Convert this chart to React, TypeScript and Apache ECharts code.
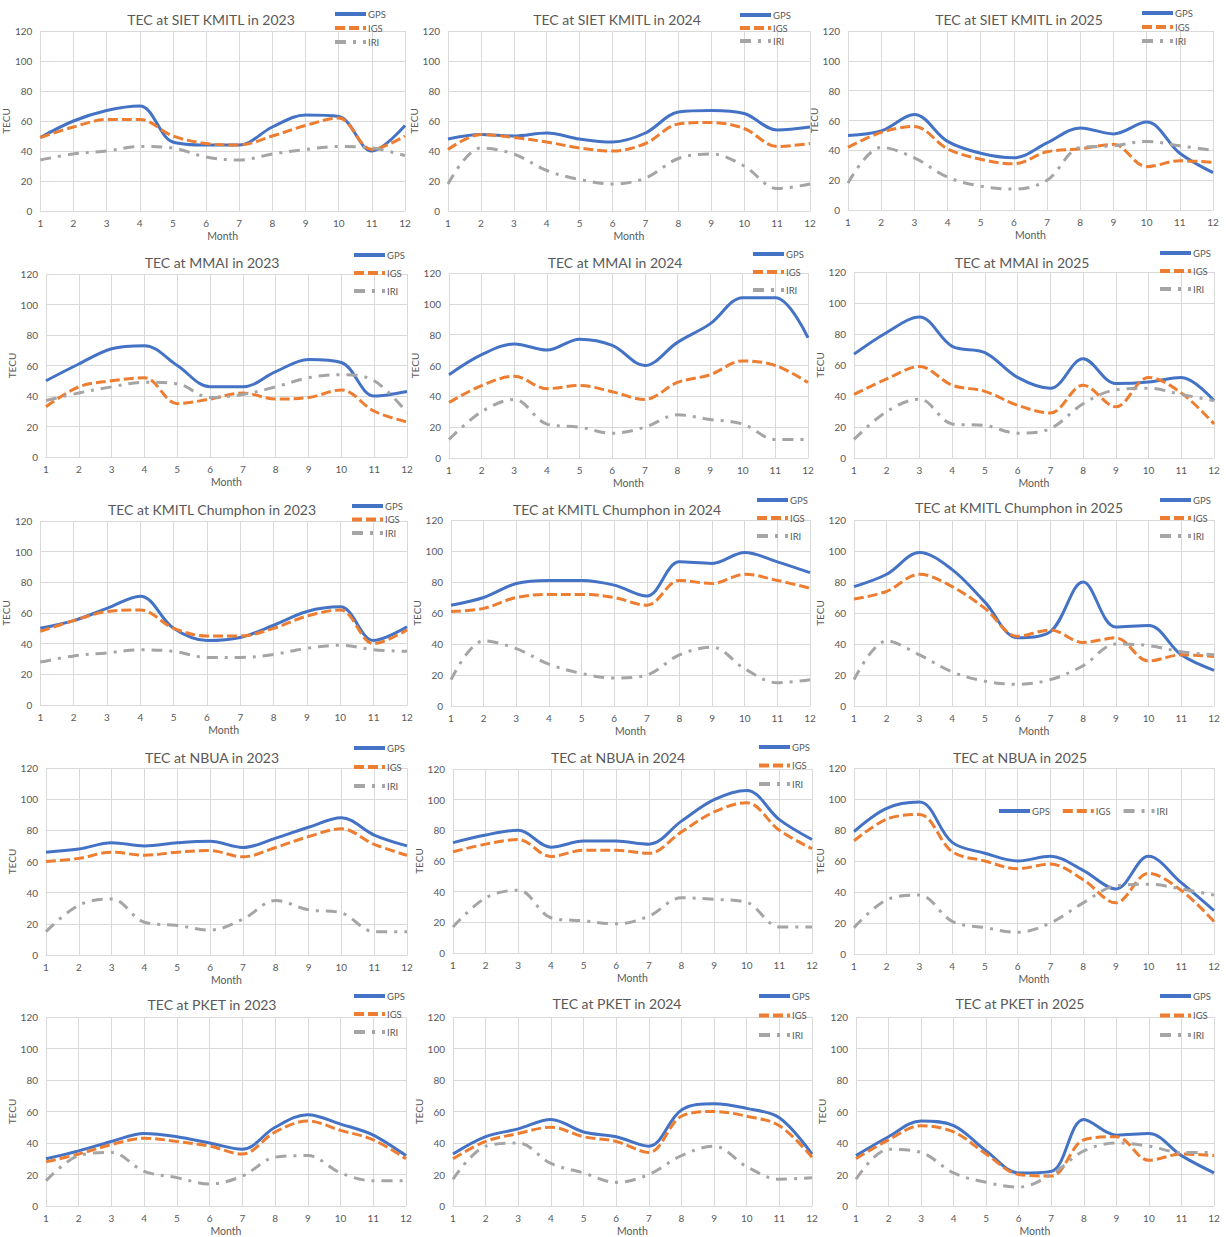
import React, { useEffect, useRef } from "react";
import * as echarts from "echarts";

const MONTHS = ["1", "2", "3", "4", "5", "6", "7", "8", "9", "10", "11", "12"];
const SERIES_NAMES = ["GPS", "IGS", "IRI"];

// SIET KMITL
const SIET_2023_GPS = [49, 60, 67, 70, 46, 44, 44, 56, 64, 63, 40, 57];
const SIET_2023_IGS = [49, 56, 61, 61, 50, 45, 44, 50, 57, 62, 41, 50];
const SIET_2023_IRI = [34, 38, 40, 43, 42, 36, 34, 38, 41, 43, 42, 37];
const SIET_2024_GPS = [48, 51, 50, 52, 48, 46, 52, 66, 67, 65, 54, 56];
const SIET_2024_IGS = [41, 51, 49, 46, 42, 40, 45, 58, 59, 55, 43, 45];
const SIET_2024_IRI = [18, 42, 38, 27, 21, 18, 22, 35, 38, 30, 15, 18];
const SIET_2025_GPS = [50, 53, 64, 46, 38, 35, 45, 55, 51, 59, 38, 25];
const SIET_2025_IGS = [42, 52, 56, 41, 34, 31, 39, 41, 44, 29, 33, 32];
const SIET_2025_IRI = [18, 42, 35, 22, 16, 14, 20, 42, 43, 46, 43, 40];
// MMAI
const MMAI_2023_GPS = [50, 61, 71, 73, 60, 46, 46, 56, 64, 62, 40, 43];
const MMAI_2023_IGS = [33, 46, 50, 52, 35, 38, 42, 38, 39, 44, 30, 23];
const MMAI_2023_IRI = [37, 42, 46, 49, 48, 39, 41, 46, 52, 54, 50, 29];
const MMAI_2024_GPS = [54, 67, 74, 70, 77, 73, 60, 75, 87, 104, 104, 78];
const MMAI_2024_IGS = [36, 47, 53, 45, 47, 43, 38, 49, 54, 63, 60, 49];
const MMAI_2024_IRI = [12, 30, 38, 22, 20, 16, 20, 28, 25, 22, 12, 12];
const MMAI_2025_GPS = [67, 81, 91, 72, 68, 52, 45, 64, 48, 49, 52, 37];
const MMAI_2025_IGS = [41, 51, 59, 47, 43, 34, 29, 47, 33, 52, 42, 22];
const MMAI_2025_IRI = [12, 30, 38, 22, 21, 16, 19, 35, 44, 45, 41, 37];
// KMITL Chumphon
const CHUM_2023_GPS = [50, 55, 63, 71, 50, 42, 44, 52, 61, 64, 42, 51];
const CHUM_2023_IGS = [48, 55, 61, 62, 50, 45, 45, 50, 58, 62, 40, 49];
const CHUM_2023_IRI = [28, 32, 34, 36, 35, 31, 31, 33, 37, 39, 36, 35];
const CHUM_2024_GPS = [65, 70, 79, 81, 81, 78, 71, 93, 92, 99, 93, 86];
const CHUM_2024_IGS = [61, 63, 70, 72, 72, 70, 65, 81, 79, 85, 81, 76];
const CHUM_2024_IRI = [17, 42, 37, 27, 21, 18, 20, 33, 38, 24, 15, 17];
const CHUM_2025_GPS = [77, 85, 99, 88, 67, 44, 48, 80, 51, 52, 33, 23];
const CHUM_2025_IGS = [69, 74, 85, 77, 63, 45, 49, 41, 44, 29, 33, 32];
const CHUM_2025_IRI = [17, 42, 33, 22, 16, 14, 17, 26, 40, 39, 35, 33];
// NBUA
const NBUA_2023_GPS = [66, 68, 72, 70, 72, 73, 69, 75, 82, 88, 77, 70];
const NBUA_2023_IGS = [60, 62, 66, 64, 66, 67, 63, 69, 76, 81, 71, 64];
const NBUA_2023_IRI = [15, 32, 36, 21, 19, 16, 23, 35, 29, 27, 15, 15];
const NBUA_2024_GPS = [72, 77, 80, 69, 73, 73, 71, 86, 100, 106, 87, 74];
const NBUA_2024_IGS = [66, 71, 74, 63, 67, 67, 65, 79, 92, 98, 80, 68];
const NBUA_2024_IRI = [17, 36, 41, 23, 21, 19, 24, 36, 35, 33, 17, 17];
const NBUA_2025_GPS = [79, 94, 98, 72, 65, 60, 63, 54, 42, 63, 46, 28];
const NBUA_2025_IGS = [73, 87, 90, 66, 60, 55, 58, 48, 33, 52, 41, 21];
const NBUA_2025_IRI = [17, 35, 38, 21, 17, 14, 20, 33, 44, 45, 42, 38];
// PKET
const PKET_2023_GPS = [30, 35, 41, 46, 44, 40, 36, 50, 58, 52, 45, 32];
const PKET_2023_IGS = [28, 33, 39, 43, 41, 38, 33, 47, 54, 48, 42, 30];
const PKET_2023_IRI = [16, 32, 34, 22, 18, 14, 19, 31, 32, 21, 16, 16];
const PKET_2024_GPS = [33, 44, 49, 55, 47, 44, 38, 61, 65, 62, 56, 33];
const PKET_2024_IGS = [30, 41, 46, 50, 44, 41, 34, 57, 60, 57, 51, 31];
const PKET_2024_IRI = [17, 38, 40, 27, 21, 15, 20, 32, 38, 25, 17, 18];
const PKET_2025_GPS = [32, 44, 54, 51, 35, 21, 22, 55, 45, 46, 32, 21];
const PKET_2025_IGS = [30, 42, 51, 47, 33, 20, 19, 42, 44, 29, 33, 32];
const PKET_2025_IRI = [17, 36, 34, 21, 15, 12, 20, 35, 40, 38, 34, 34];

const PANELS = [
  { title: "TEC at SIET KMITL in 2023", data: [SIET_2023_GPS, SIET_2023_IGS, SIET_2023_IRI] },
  { title: "TEC at SIET KMITL in 2024", data: [SIET_2024_GPS, SIET_2024_IGS, SIET_2024_IRI] },
  { title: "TEC at SIET KMITL in 2025", data: [SIET_2025_GPS, SIET_2025_IGS, SIET_2025_IRI] },
  { title: "TEC at MMAI in 2023", data: [MMAI_2023_GPS, MMAI_2023_IGS, MMAI_2023_IRI] },
  { title: "TEC at MMAI in 2024", data: [MMAI_2024_GPS, MMAI_2024_IGS, MMAI_2024_IRI] },
  { title: "TEC at MMAI in 2025", data: [MMAI_2025_GPS, MMAI_2025_IGS, MMAI_2025_IRI] },
  { title: "TEC at KMITL Chumphon in 2023", data: [CHUM_2023_GPS, CHUM_2023_IGS, CHUM_2023_IRI] },
  { title: "TEC at KMITL Chumphon in 2024", data: [CHUM_2024_GPS, CHUM_2024_IGS, CHUM_2024_IRI] },
  { title: "TEC at KMITL Chumphon in 2025", data: [CHUM_2025_GPS, CHUM_2025_IGS, CHUM_2025_IRI] },
  { title: "TEC at NBUA in 2023", data: [NBUA_2023_GPS, NBUA_2023_IGS, NBUA_2023_IRI] },
  { title: "TEC at NBUA in 2024", data: [NBUA_2024_GPS, NBUA_2024_IGS, NBUA_2024_IRI] },
  { title: "TEC at NBUA in 2025", data: [NBUA_2025_GPS, NBUA_2025_IGS, NBUA_2025_IRI] },
  { title: "TEC at PKET in 2023", data: [PKET_2023_GPS, PKET_2023_IGS, PKET_2023_IRI] },
  { title: "TEC at PKET in 2024", data: [PKET_2024_GPS, PKET_2024_IGS, PKET_2024_IRI] },
  { title: "TEC at PKET in 2025", data: [PKET_2025_GPS, PKET_2025_IGS, PKET_2025_IRI] },
];

// layout: plot x-left, x-right, y-top, y-bottom, title centre x/y, legend x, legend first y, legend step
const LAYOUT = [
  { x1: 40, x2: 405, y1: 31, y2: 211, tx: 211, ty: 19, lx: 333, ly: 15, step: 16 },
  { x1: 448, x2: 810, y1: 31, y2: 211, tx: 617, ty: 19, lx: 738, ly: 16, step: 15 },
  { x1: 848, x2: 1213, y1: 31, y2: 210, tx: 1019, ty: 19, lx: 1140, ly: 14, step: 16 },
  { x1: 46, x2: 407, y1: 274, y2: 457, tx: 212, ty: 262, lx: 352, ly: 256, step: 20 },
  { x1: 449, x2: 808, y1: 273, y2: 458, tx: 615, ty: 262, lx: 751, ly: 255, step: 20 },
  { x1: 854, x2: 1214, y1: 272, y2: 458, tx: 1022, ty: 262, lx: 1158, ly: 254, step: 20 },
  { x1: 39, x2: 407, y1: 521, y2: 705, tx: 212, ty: 509, lx: 350, ly: 507, step: 15.5 },
  { x1: 451, x2: 810, y1: 520, y2: 706, tx: 617, ty: 509, lx: 755, ly: 501, step: 20 },
  { x1: 854, x2: 1214, y1: 520, y2: 706, tx: 1019, ty: 507, lx: 1158, ly: 501, step: 20 },
  { x1: 46, x2: 407, y1: 768, y2: 955, tx: 212, ty: 757, lx: 352, ly: 749, step: 21 },
  { x1: 453, x2: 812, y1: 769, y2: 953, tx: 618, ty: 757, lx: 757, ly: 748, step: 20.5 },
  { x1: 854, x2: 1214, y1: 768, y2: 954, tx: 1020, ty: 757, lx: 997, ly: 812, step: 0, horizontal: true },
  { x1: 46, x2: 406, y1: 1017, y2: 1211, tx: 212, ty: 1004, lx: 352, ly: 997, step: 20 },
  { x1: 453, x2: 812, y1: 1017, y2: 1210, tx: 617, ty: 1003, lx: 757, ly: 997, step: 21.5 },
  { x1: 856, x2: 1214, y1: 1017, y2: 1210, tx: 1020, ty: 1003, lx: 1158, ly: 997, step: 21.5 },
];

const COLORS = ["#4472C4", "#ED7D31", "#A5A5A5"];
const DASHES: any[] = ["solid", [10, 4], [11, 7, 3, 7]];
const TEXT = "#595959";
const GRIDLINE = "#d9d9d9";
const FONT = "Lato, 'Open Sans', sans-serif";

export default function App() {
  const ref = useRef<HTMLDivElement>(null);
  useEffect(() => {
    if (!ref.current) return;
    const chart = echarts.init(ref.current, undefined, { renderer: "svg" });
    const grid: any[] = [];
    const xAxis: any[] = [];
    const yAxis: any[] = [];
    const series: any[] = [];
    const legend: any[] = [];
    const graphic: any[] = [];
    const ITEM_H = 12;
    PANELS.forEach((p, i) => {
      const L = LAYOUT[i];
      grid.push({ left: L.x1, top: L.y1, width: L.x2 - L.x1, height: L.y2 - L.y1, containLabel: false });
      xAxis.push({
        type: "category",
        gridIndex: i,
        data: MONTHS,
        boundaryGap: false,
        name: "Month",
        nameLocation: "middle",
        nameGap: 19,
        nameTextStyle: { color: TEXT, fontSize: 10.5, fontFamily: FONT },
        axisLine: { show: true, lineStyle: { color: GRIDLINE, width: 1 } },
        axisTick: { show: false },
        axisLabel: { color: TEXT, fontSize: 10, fontFamily: FONT, margin: 7, interval: 0 },
        splitLine: { show: true, lineStyle: { color: GRIDLINE, width: 1 } },
      });
      yAxis.push({
        type: "value",
        gridIndex: i,
        min: 0,
        max: 120,
        interval: 20,
        name: "TECU",
        nameLocation: "middle",
        nameGap: 23,
        nameRotate: 90,
        nameTextStyle: { color: TEXT, fontSize: 10, fontFamily: FONT },
        axisLine: { show: false },
        axisTick: { show: false },
        axisLabel: { color: TEXT, fontSize: 10, fontFamily: FONT, margin: 8 },
        splitLine: { show: true, lineStyle: { color: GRIDLINE, width: 1 } },
      });
      p.data.forEach((arr, k) => {
        series.push({
          type: "line",
          name: SERIES_NAMES[k],
          xAxisIndex: i,
          yAxisIndex: i,
          data: arr,
          smooth: 0.35,
          symbol: "none",
          lineStyle: { color: COLORS[k], width: 3, type: DASHES[k] },
          itemStyle: { color: COLORS[k] },
          emphasis: { disabled: true },
        });
      });
      graphic.push({
        type: "text",
        x: L.tx,
        y: L.ty,
        style: {
          text: p.title,
          fill: TEXT,
          fontSize: 14,
          fontFamily: FONT,
          textAlign: "center",
          textVerticalAlign: "middle",
        },
      });
      legend.push({
        orient: L.horizontal ? "horizontal" : "vertical",
        left: L.lx,
        top: L.ly - ITEM_H / 2,
        padding: 0,
        itemWidth: 31,
        itemHeight: ITEM_H,
        itemGap: L.horizontal ? 11 : L.step - ITEM_H,
        data: SERIES_NAMES,
        textStyle: { color: TEXT, fontSize: 9.5, fontFamily: FONT, padding: [0, 0, 0, -3] },
        lineStyle: { width: 4 },
        itemStyle: { opacity: 0 },
        selectedMode: false,
      });
    });
    chart.setOption({
      animation: false,
      backgroundColor: "#ffffff",
      grid,
      xAxis,
      yAxis,
      series,
      legend,
      graphic,
    });
    return () => chart.dispose();
  }, []);
  return (
    <div
      ref={ref}
      style={{ position: "absolute", left: 0, top: 0, width: 1226, height: 1237, background: "#fff" }}
    />
  );
}
